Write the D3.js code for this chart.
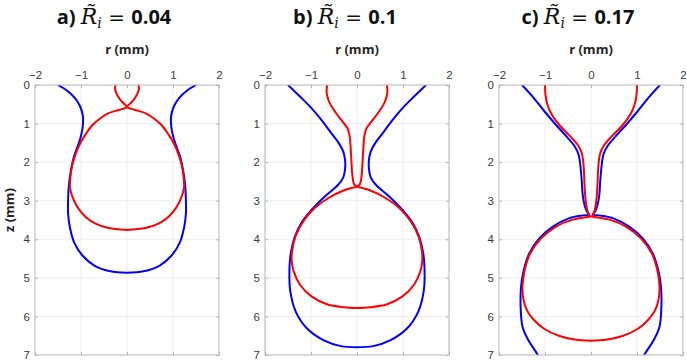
<!DOCTYPE html>
<html>
<head>
<meta charset="utf-8">
<script src="https://cdn.jsdelivr.net/npm/d3@7"></script>
<style>
  body { margin: 0; background: #fff; }
  svg { display: block; }
  .tick text { font-family: "Liberation Sans", Arial, sans-serif; font-size: 11.5px; fill: #3a3a3a; }
  .tick line { stroke: #b4b4b4; }
  .domain { display: none; }
</style>
</head>
<body>
<div id="chart"></div>
<script>
// profiles as right halves [r (mm), z (mm)]; the drop is axisymmetric so the left side is the mirror
const titles = ["a)", "b)", "c)"];
const riValues = ["0.04", "0.1", "0.17"];
const rTicks = [-2, -1, 0, 1, 2];
const zTicks = [0, 1, 2, 3, 4, 5, 6, 7];

const blueA = [[1.50,0],[1.30,0.15],[1.14,0.33],[1.02,0.55],[0.96,0.80],[0.96,1.05],[1.00,1.32],
  [1.07,1.58],[1.15,1.84],[1.21,2.15],[1.26,2.55],[1.28,2.95],[1.28,3.35],[1.24,3.70],[1.15,4.08],
  [0.97,4.42],[0.71,4.68],[0.36,4.83],[0,4.87]];
const redA = [[0.25,0],[0.26,0.08],[0.23,0.22],[0.16,0.36],[0.07,0.48],[0,0.57],[0.10,0.62],
  [0.25,0.67],[0.42,0.74],[0.60,0.88],[0.76,1.05],[0.90,1.28],[1.02,1.52],[1.12,1.80],[1.19,2.08],
  [1.23,2.38],[1.24,2.65],[1.18,2.92],[1.07,3.18],[0.90,3.42],[0.67,3.60],[0.40,3.71],[0,3.76]];

const blueB = [[1.50,0],[1.24,0.30],[0.99,0.60],[0.77,0.91],[0.56,1.25],[0.40,1.50],[0.30,1.72],
  [0.26,1.94],[0.26,2.18],[0.30,2.40],[0.42,2.60],[0.70,2.89],[0.99,3.24],[1.21,3.58],[1.35,3.93],
  [1.44,4.36],[1.47,4.90],[1.45,5.35],[1.33,5.88],[1.08,6.32],[0.72,6.62],[0.35,6.77],[0,6.80]];
const redB = [[0.65,0],[0.66,0.20],[0.60,0.45],[0.46,0.72],[0.30,0.97],[0.20,1.14],[0.16,1.32],
  [0.14,1.60],[0.12,2.00],[0.10,2.35],[0.06,2.58],[0,2.63],[0.08,2.66],[0.28,2.73],[0.62,2.93],
  [0.92,3.19],[1.17,3.54],[1.34,3.93],[1.41,4.30],[1.42,4.55],[1.38,4.82],[1.24,5.18],[0.99,5.48],
  [0.64,5.69],[0.28,5.76],[0,5.78]];

const blueC = [[1.50,0],[1.27,0.30],[1.00,0.70],[0.75,1.05],[0.52,1.35],[0.36,1.58],[0.27,1.80],
  [0.23,2.10],[0.20,2.50],[0.18,2.85],[0.14,3.12],[0.09,3.28],[0.04,3.36],[0.18,3.38],[0.47,3.45],
  [0.83,3.67],[1.12,3.97],[1.34,4.36],[1.46,4.79],[1.52,5.22],[1.53,5.74],[1.49,6.26],[1.37,6.60],
  [1.23,6.86],[1.13,7.05]];
const redC = [[1.00,0],[0.99,0.25],[0.95,0.50],[0.86,0.75],[0.68,1.05],[0.46,1.32],[0.29,1.55],
  [0.20,1.77],[0.16,2.10],[0.14,2.60],[0.12,2.95],[0.08,3.25],[0.04,3.38],[0.01,3.41],[0.12,3.43],
  [0.40,3.49],[0.76,3.67],[1.08,3.97],[1.32,4.36],[1.44,4.79],[1.49,5.22],[1.47,5.55],[1.39,5.85],
  [1.25,6.08],[1.02,6.32],[0.70,6.50],[0.35,6.60],[0,6.63]];

const blues = [blueA, blueB, blueC];
const reds = [redA, redB, redC];

const width = 687, height = 361;
const plotLeft = [35, 265, 499];
const plotW = 184, plotTop = 85, plotH = 270;
const titleX = [114, 345, 578];

const svg = d3.select("#chart").append("svg")
  .attr("width", width)
  .attr("height", height);

titles.forEach((t, i) => {
  const x = d3.scaleLinear().domain([-2, 2]).range([plotLeft[i], plotLeft[i] + plotW]);
  const y = d3.scaleLinear().domain([0, 7]).range([plotTop, plotTop + plotH]);
  const g = svg.append("g");

  // grid
  g.append("g").selectAll("line").data(rTicks.slice(1, -1)).join("line")
    .attr("x1", d => x(d)).attr("x2", d => x(d))
    .attr("y1", plotTop).attr("y2", plotTop + plotH)
    .attr("stroke", "#ededed").attr("stroke-width", 1);
  g.append("g").selectAll("line").data(zTicks.slice(1, -1)).join("line")
    .attr("x1", plotLeft[i]).attr("x2", plotLeft[i] + plotW)
    .attr("y1", d => y(d)).attr("y2", d => y(d))
    .attr("stroke", "#ededed").attr("stroke-width", 1);

  // axes, ticks pointing inward
  g.append("g").attr("transform", `translate(0,${plotTop})`)
    .call(d3.axisTop(x).tickValues(rTicks).tickFormat(d3.format("d"))
      .tickSizeInner(-3).tickSizeOuter(0).tickPadding(6));
  g.append("g").attr("transform", `translate(0,${plotTop + plotH})`)
    .call(d3.axisBottom(x).tickValues(rTicks).tickSizeInner(-3).tickSizeOuter(0).tickFormat(""));
  g.append("g").attr("transform", `translate(${plotLeft[i]},0)`)
    .call(d3.axisLeft(y).tickValues(zTicks).tickFormat(d3.format("d"))
      .tickSizeInner(-3).tickSizeOuter(0).tickPadding(5));
  g.append("g").attr("transform", `translate(${plotLeft[i] + plotW},0)`)
    .call(d3.axisRight(y).tickValues(zTicks).tickSizeInner(-3).tickSizeOuter(0).tickFormat(""));

  // clip
  const clipId = "clip" + i;
  svg.append("clipPath").attr("id", clipId).append("rect")
    .attr("x", plotLeft[i]).attr("y", plotTop).attr("width", plotW).attr("height", plotH);

  const line = d3.line().x(d => x(d[0])).y(d => y(d[1])).curve(d3.curveCatmullRom.alpha(0.5));
  const curves = g.append("g").attr("clip-path", `url(#${clipId})`);
  [[blues[i], "#0000ff"], [reds[i], "#ff0000"]].forEach(([prof, col]) => {
    [1, -1].forEach(s => {
      curves.append("path")
        .datum(prof.map(p => [s * p[0], p[1]]))
        .attr("fill", "none")
        .attr("stroke", col)
        .attr("stroke-width", 2)
        .attr("d", line);
    });
  });

  // frame
  g.append("rect")
    .attr("x", plotLeft[i]).attr("y", plotTop)
    .attr("width", plotW).attr("height", plotH)
    .attr("fill", "none").attr("stroke", "#b4b4b4").attr("stroke-width", 1);

  // axis label
  g.append("text")
    .attr("x", plotLeft[i] + plotW / 2)
    .attr("y", 54)
    .attr("text-anchor", "middle")
    .attr("font-family", "'Open Sans', Arial, sans-serif")
    .attr("font-weight", "bold")
    .attr("font-size", "13px")
    .attr("fill", "#222")
    .text("r (mm)");

  // title
  const tt = g.append("text")
    .attr("x", titleX[i])
    .attr("y", 24)
    .attr("text-anchor", "middle")
    .attr("font-size", "20px")
    .attr("fill", "#111");
  tt.append("tspan")
    .attr("font-family", "'Open Sans', Arial, sans-serif").attr("font-weight", "bold")
    .text(t + " ");
  tt.append("tspan")
    .attr("font-family", "'DejaVu Serif', serif").attr("font-style", "italic")
    .attr("font-size", "22px")
    .text("R\u0303");
  tt.append("tspan")
    .attr("font-family", "'DejaVu Serif', serif").attr("font-style", "italic")
    .attr("font-size", "14px").attr("dy", 4)
    .text("i");
  tt.append("tspan")
    .attr("font-family", "'DejaVu Sans', sans-serif")
    .attr("dy", -4)
    .text(" = ");
  tt.append("tspan")
    .attr("font-family", "'Open Sans', Arial, sans-serif").attr("font-weight", "bold")
    .text(riValues[i]);
});

svg.append("text")
  .attr("transform", "translate(14,210) rotate(-90)")
  .attr("text-anchor", "middle")
  .attr("font-family", "'Open Sans', Arial, sans-serif")
  .attr("font-weight", "bold")
  .attr("font-size", "13px")
  .attr("fill", "#222")
  .text("z (mm)");
</script>
</body>
</html>
